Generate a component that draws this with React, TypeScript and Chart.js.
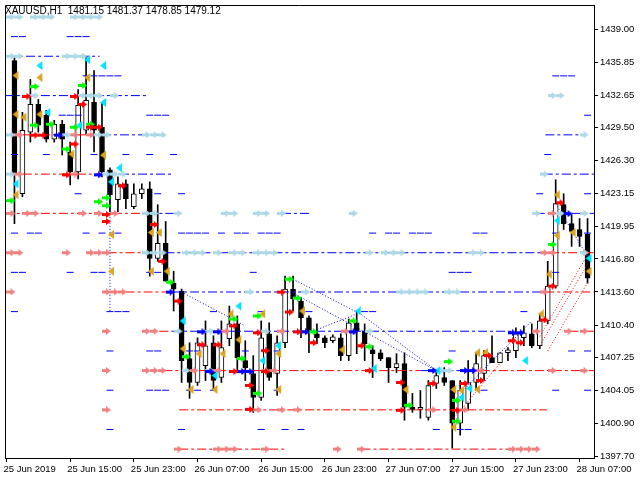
import React, { useEffect, useRef } from 'react';
import { Chart, registerables } from 'chart.js';
Chart.register(...registerables);

const symbolTitle = 'XAUUSD,H1  1481.15 1481.37 1478.85 1479.12';

const opens = [
  1435.99, 1423.11, 1429.07, 1431.76, 1430.70, 1428.40, 1429.84, 1427.15, 1425.22, 1429.26,
  1431.95, 1429.55, 1425.42, 1422.53, 1424.07, 1421.86, 1423.11, 1423.59, 1416.86, 1418.30,
  1414.46, 1413.69, 1407.15, 1404.84, 1406.47, 1408.69, 1405.32, 1409.07, 1410.51, 1406.96,
  1405.71, 1403.40, 1409.55, 1405.71, 1408.69, 1413.88, 1412.72, 1411.09, 1409.55, 1409.17,
  1408.88, 1409.17, 1407.44, 1410.61, 1409.84, 1408.01, 1407.72, 1407.24, 1406.28, 1406.67,
  1402.44, 1402.24, 1401.47, 1404.74, 1405.32, 1405.03, 1400.90, 1402.82, 1404.84, 1405.71,
  1407.24, 1406.76, 1407.72, 1407.92, 1409.17, 1409.55, 1408.40, 1410.80, 1414.17, 1422.05,
  1420.22, 1419.65, 1419.17,
];
const highs = [
  1436.28, 1430.99, 1434.17, 1432.24, 1431.19, 1430.22, 1430.22, 1428.11, 1433.20, 1436.28,
  1435.03, 1431.95, 1425.61, 1424.74, 1424.46, 1424.07, 1424.07, 1424.26, 1422.05, 1420.42,
  1415.61, 1413.88, 1408.69, 1409.17, 1410.80, 1409.36, 1410.80, 1412.24, 1411.28, 1408.88,
  1407.44, 1410.80, 1410.61, 1409.36, 1415.13, 1415.13, 1413.01, 1411.28, 1410.51, 1409.36,
  1409.46, 1409.55, 1410.99, 1411.76, 1410.51, 1408.40, 1408.01, 1407.24, 1407.63, 1407.72,
  1403.78, 1404.07, 1405.03, 1405.99, 1406.28, 1405.03, 1405.03, 1406.96, 1407.72, 1407.92,
  1409.36, 1407.72, 1408.21, 1410.13, 1410.32, 1410.51, 1411.47, 1416.57, 1424.46, 1423.11,
  1421.09, 1420.71, 1420.71,
];
const lows = [
  1420.22, 1422.82, 1428.11, 1429.07, 1428.11, 1428.11, 1426.86, 1423.97, 1424.55, 1428.88,
  1427.15, 1424.74, 1421.38, 1421.38, 1421.67, 1421.67, 1422.63, 1415.13, 1416.57, 1414.65,
  1411.76, 1404.84, 1403.30, 1404.55, 1405.03, 1404.07, 1404.84, 1408.40, 1405.80, 1405.03,
  1401.95, 1403.11, 1405.03, 1403.59, 1408.21, 1411.76, 1409.17, 1407.72, 1408.59, 1408.21,
  1408.69, 1406.96, 1406.96, 1407.63, 1406.96, 1405.32, 1406.96, 1404.84, 1405.80, 1401.19,
  1401.95, 1401.38, 1401.19, 1404.26, 1404.55, 1398.49, 1399.74, 1402.15, 1404.07, 1405.03,
  1406.76, 1406.76, 1406.96, 1407.24, 1408.40, 1408.21, 1408.11, 1410.51, 1413.97, 1419.65,
  1418.01, 1418.01, 1414.46,
];
const closes = [
  1425.03, 1429.26, 1431.76, 1429.74, 1428.40, 1429.84, 1428.40, 1425.22, 1431.67, 1432.15,
  1429.26, 1425.22, 1423.01, 1424.07, 1422.63, 1423.11, 1423.59, 1416.86, 1418.30, 1414.65,
  1413.88, 1406.96, 1404.84, 1408.69, 1408.40, 1405.03, 1408.21, 1410.51, 1407.24, 1406.28,
  1403.40, 1409.17, 1405.32, 1408.69, 1413.88, 1412.92, 1411.09, 1409.84, 1409.17, 1408.69,
  1409.26, 1407.44, 1410.61, 1409.84, 1408.59, 1407.63, 1407.15, 1406.28, 1406.67, 1402.44,
  1402.24, 1402.44, 1404.55, 1405.51, 1404.84, 1400.90, 1404.07, 1404.84, 1406.67, 1407.44,
  1406.76, 1407.72, 1408.01, 1409.55, 1409.65, 1408.40, 1410.80, 1414.17, 1422.15, 1420.22,
  1419.46, 1418.97, 1414.94,
];

const timeTickBars = [-1, 7, 15, 23, 31, 39, 47, 55, 63, 71];
const timeTickLabels = [
  '25 Jun 2019', '25 Jun 15:00', '25 Jun 23:00', '26 Jun 07:00', '26 Jun 15:00',
  '26 Jun 23:00', '27 Jun 07:00', '27 Jun 15:00', '27 Jun 23:00', '28 Jun 07:00',
];
const priceTicks = [
  1397.70, 1400.90, 1404.05, 1407.25, 1410.40, 1413.60, 1416.80,
  1419.95, 1423.15, 1426.30, 1429.50, 1432.65, 1435.85, 1439.00,
];

// main grid levels (dash-dot lines with arrow marks)
const mainLevels = [1440.22, 1436.42, 1432.61, 1428.81, 1425.01, 1421.21, 1417.40, 1413.60, 1409.80, 1405.99, 1402.19, 1398.39];
// intermediate levels (short dash marks)
const minorLevels = [1438.32, 1434.52, 1430.71, 1426.91, 1423.11, 1419.30, 1415.50, 1411.70, 1407.89, 1404.09, 1400.29];

// [main level index, from bar, to bar]
const blueSegments = [
  [1, -0.8, 10.7], [2, -1.2, 16.9], [3, 11, 19.2], [4, 11, 20], [4, 66.5, 72.8],
  [5, 16.7, 20], [5, 33.6, 37], [5, 65.5, 72.8], [3, 66.7, 71.4], [6, 16.7, 67.3],
  [7, 19.8, 66.7], [8, 19.8, 62.7], [9, 51, 58.6],
];
const redSegments = [
  [3, -1.2, 11], [4, -1.2, 11], [5, -1.2, 16.7], [6, 11.7, 16.7], [6, 67.3, 72.8],
  [7, 11.7, 19.8], [7, 66.7, 72.8], [8, 18.2, 19.8], [8, 69.7, 72.8], [9, 18.7, 51],
  [9, 58.6, 72.8], [10, 20.7, 66.9], [11, 20.7, 34], [11, 43.6, 62.7],
];

// bars carrying a short blue dash, per minor level
const minorDashBars = [
  [0, 1, 7, 8, 9],
  [9, 10, 11, 12, 13, 68, 69, 70],
  [6, 7, 8, 17, 18, 19, 72],
  [0, 4, 10, 14, 17, 20, 67],
  [8, 18, 21, 66, 72],
  [0, 2, 3, 9, 11, 13, 21, 22, 23, 24, 26, 28, 29, 31, 32, 33, 45, 47, 48, 50, 51, 52, 58, 59, 68, 72],
  [0, 1, 7, 10, 11, 17, 18, 30, 55, 56, 57, 68],
  [0, 12, 13, 14, 25, 31, 37, 44, 45, 64],
  [12, 17, 18, 22, 23, 29, 33, 55, 70, 72],
  [12, 17, 18, 19, 22, 23, 25, 33, 59, 68, 72],
  [12, 21, 31, 34, 36, 53, 56, 57],
];
// bars carrying a light-blue arrow, per main level
const lightBlueBars = [
  [0, 1, 3, 4, 5, 8, 9, 10, 11],
  [0, 1, 7, 8, 9],
  [3, 9, 10, 11, 13, 68, 69],
  [0, 7, 11, 12, 17, 18, 19, 72],
  [0, 12, 13, 14, 67],
  [17, 18, 21, 27, 28, 31, 32, 34, 43, 66, 69, 72],
  [17, 18, 19, 22, 23, 24, 26, 28, 29, 31, 32, 33, 45, 47, 48, 49, 58, 59, 72],
  [30, 37, 49, 50, 51, 52, 55, 56],
  [21, 25, 32, 45],
  [22, 25, 54, 55],
  [],
  [],
];
// bars carrying a salmon arrow, per main level
const salmonBars = [
  [], [], [],
  [1, 8, 10],
  [1, 8],
  [0, 2, 3, 9, 11, 13, 68],
  [0, 1, 7, 10, 11, 12, 67, 68, 72],
  [0, 12, 13, 14, 67],
  [12, 17, 18, 27, 34, 42, 66, 70, 72],
  [12, 17, 18, 19, 23, 26, 32, 33, 59, 68, 72],
  [12, 31, 34, 36, 53, 57],
  [21, 26, 27, 28, 32, 41, 44, 63, 64, 65, 66],
];

const redArrowPts = [[2,1432.53],[8,1432.53],[3,1428.78],[4,1428.78],[9,1431.76],[10,1429.55],[11,1429.55],[7,1424.94],[8,1427.92],[12,1421.09],[12,1420.42],[14,1423.88],[18,1420.13],[19,1416.57],[21,1412.72],[24,1408.49],[26,1408.49],[28,1410.32],[28,1405.90],[30,1404.55],[31,1409.65],[32,1407.92],[32,1405.90],[30,1402.24],[34,1413.59],[35,1411.66],[36,1409.74],[38,1408.69],[44,1408.40],[45,1405.99],[49,1404.84],[49,1402.15],[53,1404.74],[56,1402.15],[57,1404.74],[59,1405.03],[60,1407.44],[63,1408.88],[64,1408.69],[67,1410.90],[68,1414.17],[69,1422.24]];
const blueArrowPts = [[6,1428.78],[11,1424.94],[20,1413.59],[24,1409.74],[26,1409.74],[25,1405.90],[29,1405.90],[30,1405.90],[37,1409.74],[43,1409.74],[53,1405.99],[57,1405.99],[58,1405.99],[63,1409.65],[64,1409.65],[70,1421.18]];
const greenArrowPts = [[3,1433.49],[3,1429.74],[5,1429.84],[7,1427.44],[9,1433.59],[10,1429.84],[8,1429.55],[0,1422.44],[11,1422.34],[12,1422.72],[12,1421.95],[20,1414.55],[22,1407.34],[28,1410.99],[29,1407.15],[31,1411.28],[31,1403.78],[35,1414.84],[36,1413.01],[38,1409.74],[43,1410.80],[45,1408.30],[50,1402.63],[55,1406.86],[56,1403.11],[56,1401.09],[68,1418.20]];
const cyanTriPts = [[3,1435.51],[9,1436.09],[4,1430.99],[8,1429.74],[11,1435.51],[11,1431.95],[0,1424.07],[12,1424.26],[13,1425.61],[21,1410.80],[25,1405.51],[28,1412.24],[31,1406.96],[33,1408.40],[43,1411.76],[45,1406.19],[53,1405.99],[56,1403.40],[57,1404.26],[64,1406.96],[68,1420.51],[72,1416.86]];
const goldTriPts = [[0,1434.55],[3,1434.36],[9,1434.36],[0,1430.80],[1,1430.51],[3,1430.80],[0,1423.01],[7,1426.95],[11,1426.86],[12,1419.17],[12,1415.61],[17,1415.61],[17,1419.36],[18,1419.36],[19,1415.61],[21,1408.11],[23,1407.63],[22,1404.16],[25,1404.16],[26,1407.63],[27,1411.47],[28,1408.98],[31,1411.47],[33,1407.63],[33,1404.16],[36,1411.76],[41,1408.01],[49,1404.16],[55,1404.16],[55,1400.51],[56,1404.07],[58,1404.16],[58,1407.72],[59,1407.72],[66,1411.47],[67,1415.32],[68,1423.01],[68,1419.07],[70,1419.36],[72,1415.61]];

// zigzag dotted segments [bar, price, bar, price]
const blueZig = [[12,1424.94,12,1411.66],[21,1413.59,29,1410.32],[35,1414.84,43,1411.66],[35,1413.49,53,1405.99],[37,1409.65,43,1411.47],[43,1411.76,53,1405.99],[56,1403.78,65,1410.80],[68,1422.15,72,1417.05]];
const redZig = [[66,1409.30,72,1417.20],[66,1408.40,72,1416.30],[67,1407.90,72,1414.50],[55,1401.20,61,1406.70]];

const FONT = "'Liberation Sans', Arial, sans-serif";

export default function App() {
  const ref = useRef<HTMLCanvasElement>(null);

  useEffect(() => {
    document.body.style.margin = '0';
    const canvas = ref.current;
    if (!canvas) return;

    const mkArrow = (color: string) => {
      const c = document.createElement('canvas');
      c.width = 16; c.height = 7;
      const g = c.getContext('2d')!;
      g.fillStyle = color;
      g.fillRect(0, 2, 5, 3);
      g.beginPath(); g.moveTo(4, 0); g.lineTo(9, 3.5); g.lineTo(4, 7); g.closePath(); g.fill();
      return c;
    };
    const mkTri = (color: string) => {
      const c = document.createElement('canvas');
      c.width = 10; c.height = 9;
      const g = c.getContext('2d')!;
      g.fillStyle = color;
      g.beginPath(); g.moveTo(9, 0); g.lineTo(3, 4.5); g.lineTo(9, 9); g.closePath(); g.fill();
      return c;
    };

    const pts = (arr: number[][]) => arr.map(([k, p]) => ({ x: k, y: p }));
    const levelPts = (levels: number[], bars: number[][]) =>
      bars.flatMap((ks, li) => ks.map((k) => ({ x: k, y: levels[li] })));
    const segs = (list: number[][]) =>
      list.flatMap(([li, a, b]) => [
        { x: a, y: mainLevels[li] }, { x: b, y: mainLevels[li] }, { x: b, y: null as any },
      ]);
    const zig = (list: number[][]) =>
      list.flatMap(([a, pa, b, pb]) => [{ x: a, y: pa }, { x: b, y: pb }, { x: b, y: null as any }]);

    const idx = opens.map((_, i) => i);
    const wickData = idx.map((i) => ({ x: i, y: [lows[i], highs[i]] }));
    const bodyData = idx.map((i) => ({ x: i, y: [opens[i], closes[i]] }));
    const bodyColors = idx.map((i) => (closes[i] >= opens[i] ? '#ffffff' : '#000000'));

    const scatter = (data: any[], style: any, order: number) => ({
      type: 'scatter', data, pointStyle: style, pointRadius: 4, showLine: false, order,
    });

    const framePlugin = {
      id: 'frame',
      afterDatasetsDraw(chart: any) {
        const { ctx, chartArea } = chart;
        ctx.save();
        ctx.strokeStyle = '#000';
        ctx.lineWidth = 1;
        ctx.beginPath();
        ctx.moveTo(chartArea.left + 0.5, chartArea.bottom);
        ctx.lineTo(chartArea.left + 0.5, chartArea.top + 0.5);
        ctx.lineTo(chartArea.right, chartArea.top + 0.5);
        ctx.stroke();
        ctx.fillStyle = '#000';
        ctx.font = `10px ${FONT}`;
        ctx.textBaseline = 'middle';
        ctx.textAlign = 'left';
        ctx.fillText(symbolTitle, 5, 11);
        ctx.restore();
      },
    };

    const chart = new Chart(canvas, {
      type: 'bar',
      data: {
        datasets: [
          scatter(pts(redArrowPts), mkArrow('#ff0000'), 1),
          scatter(pts(blueArrowPts), mkArrow('#0000ff'), 1),
          scatter(pts(greenArrowPts), mkArrow('#00ff00'), 1),
          scatter(pts(cyanTriPts), mkTri('#00e5ff'), 1),
          scatter(pts(goldTriPts), mkTri('#daa520'), 1),
          scatter(levelPts(mainLevels, lightBlueBars), mkArrow('#add8e6'), 2),
          scatter(levelPts(mainLevels, salmonBars), mkArrow('#f08080'), 2),
          {
            type: 'scatter', data: levelPts(minorLevels, minorDashBars), pointStyle: 'line',
            pointRadius: 3.5, pointBorderColor: '#0000ff', pointBackgroundColor: '#0000ff',
            pointBorderWidth: 1, showLine: false, order: 3,
          },
          {
            type: 'line', data: segs(blueSegments), borderColor: '#0000ff', borderWidth: 1,
            borderDash: [9, 3, 3, 3], pointRadius: 0, spanGaps: false, order: 5,
          },
          {
            type: 'line', data: segs(redSegments), borderColor: '#ff0000', borderWidth: 1,
            borderDash: [9, 3, 3, 3], pointRadius: 0, spanGaps: false, order: 5,
          },
          {
            type: 'line', data: zig(blueZig), borderColor: '#0000ff', borderWidth: 1,
            borderDash: [1, 2], pointRadius: 0, spanGaps: false, order: 6,
          },
          {
            type: 'line', data: zig(redZig), borderColor: '#ff0000', borderWidth: 1,
            borderDash: [1, 2], pointRadius: 0, spanGaps: false, order: 6,
          },
          {
            type: 'bar', data: bodyData, backgroundColor: bodyColors, borderColor: '#000000',
            borderWidth: 1, borderSkipped: false, barThickness: 5, grouped: false, order: 20,
          },
          {
            type: 'bar', data: wickData, backgroundColor: '#000000', barThickness: 1,
            grouped: false, order: 21,
          },
        ] as any,
      },
      options: {
        responsive: false,
        animation: false,
        devicePixelRatio: 1,
        events: [],
        layout: { padding: { left: 2, top: 2, right: 0, bottom: 0 } },
        plugins: { legend: { display: false }, tooltip: { enabled: false } },
        scales: {
          x: {
            type: 'linear', min: -1.1875, max: 72.8125, offset: false, position: 'bottom',
            grid: { drawOnChartArea: false, drawTicks: true, tickLength: 4, color: '#000', offset: false },
            border: { display: true, color: '#000', width: 1 },
            ticks: {
              autoSkip: false, maxRotation: 0, minRotation: 0, align: 'start', padding: 2,
              labelOffset: -3,
              color: '#000', font: { family: FONT, size: 9.5 },
              callback: (v: any) => {
                const i = timeTickBars.indexOf(Number(v));
                return i >= 0 ? timeTickLabels[i] : '';
              },
            },
            afterBuildTicks: (s: any) => { s.ticks = timeTickBars.map((v) => ({ value: v })); },
            afterFit: (s: any) => { s.height = 22; s.paddingLeft = 0; s.paddingRight = 0; },
          },
          y: {
            type: 'linear', position: 'right', min: 1397.53, max: 1441.38,
            grid: { drawOnChartArea: false, drawTicks: true, tickLength: 4, color: '#000' },
            border: { display: true, color: '#000', width: 1 },
            ticks: {
              autoSkip: false, padding: 2, color: '#000', font: { family: FONT, size: 9.5 },
              callback: (v: any) => Number(v).toFixed(2),
            },
            afterBuildTicks: (s: any) => { s.ticks = priceTicks.map((v) => ({ value: v })); },
            afterFit: (s: any) => { s.width = 46; s.paddingTop = 0; s.paddingBottom = 0; },
          },
        },
      } as any,
      plugins: [framePlugin],
    });

    return () => chart.destroy();
  }, []);

  return (
    <div style={{ width: 640, height: 480, background: '#fff' }}>
      <canvas ref={ref} width={640} height={480} style={{ display: 'block', width: 640, height: 480 }} />
    </div>
  );
}
